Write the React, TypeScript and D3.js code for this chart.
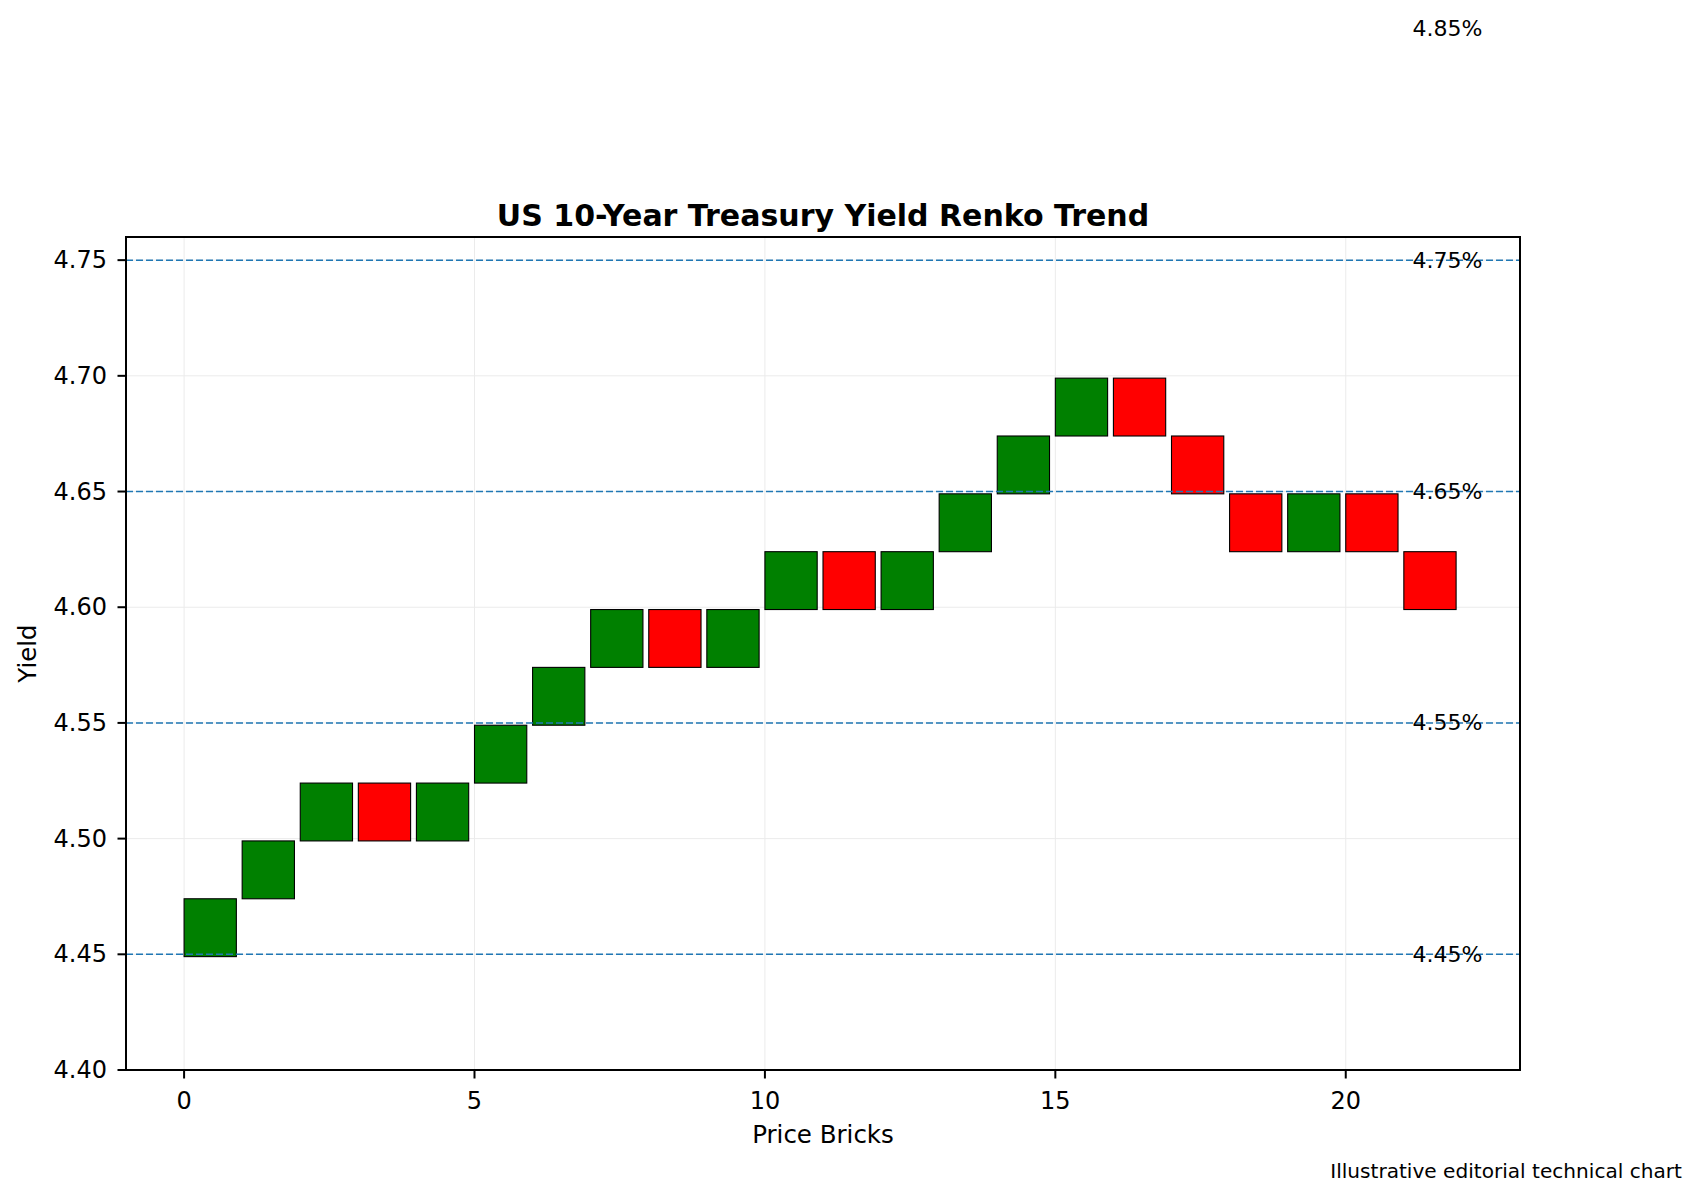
import { useEffect, useRef } from 'react'
import * as d3 from 'd3'

// brick bottoms (yield)
const brickBottoms = [
  4.449, 4.474, 4.499, 4.499, 4.499, 4.524, 4.549, 4.574, 4.574, 4.574, 4.599,
  4.599, 4.599, 4.624, 4.649, 4.674, 4.674, 4.649, 4.624, 4.624, 4.624, 4.599
]
// 1 = up brick, -1 = down brick
const brickDirs = [
  1, 1, 1, -1, 1, 1, 1, 1, -1, 1, 1,
  -1, 1, 1, 1, 1, -1, -1, -1, 1, -1, -1
]
const brickSize = 0.025
const levels = [4.45, 4.55, 4.65, 4.75, 4.85]
const yTicks = [4.4, 4.45, 4.5, 4.55, 4.6, 4.65, 4.7, 4.75]
const xTicks = [0, 5, 10, 15, 20]

const W = 1700
const H = 1200
const FONT = '"DejaVu Sans", sans-serif'

export default function App() {
  const svgRef = useRef<SVGSVGElement>(null)

  useEffect(() => {
    if (!svgRef.current) return
    const svg = d3.select(svgRef.current)
    svg.selectAll('*').remove()

    const left = 126, right = 1520, top = 237, bottom = 1070
    const x = d3.scaleLinear().domain([-1, 23]).range([left, right])
    const y = d3.scaleLinear().domain([4.4, 4.76]).range([bottom, top])

    svg.append('rect').attr('width', W).attr('height', H).attr('fill', '#fff')

    // grid
    const grid = svg.append('g').attr('stroke', '#ebebeb').attr('stroke-width', 1)
    xTicks.forEach(t => {
      grid.append('line').attr('x1', x(t)).attr('x2', x(t)).attr('y1', top).attr('y2', bottom)
    })
    yTicks.forEach(t => {
      grid.append('line').attr('x1', left).attr('x2', right).attr('y1', y(t)).attr('y2', y(t))
    })

    // bricks
    svg.append('g')
      .selectAll('rect')
      .data(brickBottoms)
      .enter()
      .append('rect')
      .attr('x', (d, i) => x(i))
      .attr('width', (d, i) => x(i + 0.9) - x(i))
      .attr('y', d => y(d + brickSize))
      .attr('height', d => y(d) - y(d + brickSize))
      .attr('fill', (d, i) => (brickDirs[i] > 0 ? '#008000' : '#ff0000'))
      .attr('stroke', '#000')
      .attr('stroke-width', 1.1)

    // level lines (clipped to axes)
    const [yMin, yMax] = y.domain()
    svg.append('g')
      .selectAll('line')
      .data(levels.filter(l => l >= yMin && l <= yMax))
      .enter()
      .append('line')
      .attr('x1', left)
      .attr('x2', right)
      .attr('y1', d => y(d))
      .attr('y2', d => y(d))
      .attr('stroke', '#1f77b4')
      .attr('stroke-width', 1.5)
      .attr('stroke-dasharray', '7 3')

    // level labels (not clipped)
    svg.append('g')
      .selectAll('text')
      .data(levels)
      .enter()
      .append('text')
      .attr('x', x(21.15))
      .attr('y', d => y(d))
      .attr('dominant-baseline', 'central')
      .style('font-family', FONT)
      .style('font-size', '22px')
      .attr('fill', '#000')
      .text(d => `${d.toFixed(2)}%`)

    // spines
    svg.append('rect')
      .attr('x', left).attr('y', top)
      .attr('width', right - left).attr('height', bottom - top)
      .attr('fill', 'none').attr('stroke', '#000').attr('stroke-width', 2)

    // y ticks
    const yt = svg.append('g')
    yTicks.forEach(t => {
      yt.append('line').attr('x1', left - 8.5).attr('x2', left).attr('y1', y(t)).attr('y2', y(t))
        .attr('stroke', '#000').attr('stroke-width', 2)
      yt.append('text').attr('x', 107).attr('y', y(t))
        .attr('text-anchor', 'end').attr('dominant-baseline', 'central')
        .style('font-family', FONT).style('font-size', '24px')
        .text(d3.format('.2f')(t))
    })

    // x ticks
    const xt = svg.append('g')
    xTicks.forEach(t => {
      xt.append('line').attr('x1', x(t)).attr('x2', x(t)).attr('y1', bottom).attr('y2', bottom + 8.5)
        .attr('stroke', '#000').attr('stroke-width', 2)
      xt.append('text').attr('x', x(t)).attr('y', 1109)
        .attr('text-anchor', 'middle')
        .style('font-family', FONT).style('font-size', '24px')
        .text(String(t))
    })

    // labels
    svg.append('text')
      .attr('x', (left + right) / 2).attr('y', 1143)
      .attr('text-anchor', 'middle')
      .style('font-family', FONT).style('font-size', '24.5px')
      .text('Price Bricks')

    svg.append('text')
      .attr('transform', `translate(36, ${(top + bottom) / 2}) rotate(-90)`)
      .attr('text-anchor', 'middle')
      .style('font-family', FONT).style('font-size', '24.5px')
      .text('Yield')

    svg.append('text')
      .attr('x', (left + right) / 2).attr('y', 226)
      .attr('text-anchor', 'middle')
      .style('font-family', FONT).style('font-size', '30px').style('font-weight', 'bold')
      .text('US 10-Year Treasury Yield Renko Trend')

    svg.append('text')
      .attr('x', 1682).attr('y', 1178)
      .attr('text-anchor', 'end')
      .style('font-family', FONT).style('font-size', '20.1px')
      .text('Illustrative editorial technical chart')
  }, [])

  return (
    <svg
      ref={svgRef}
      width={W}
      height={H}
      style={{ position: 'absolute', left: 0, top: 0 }}
    />
  )
}
